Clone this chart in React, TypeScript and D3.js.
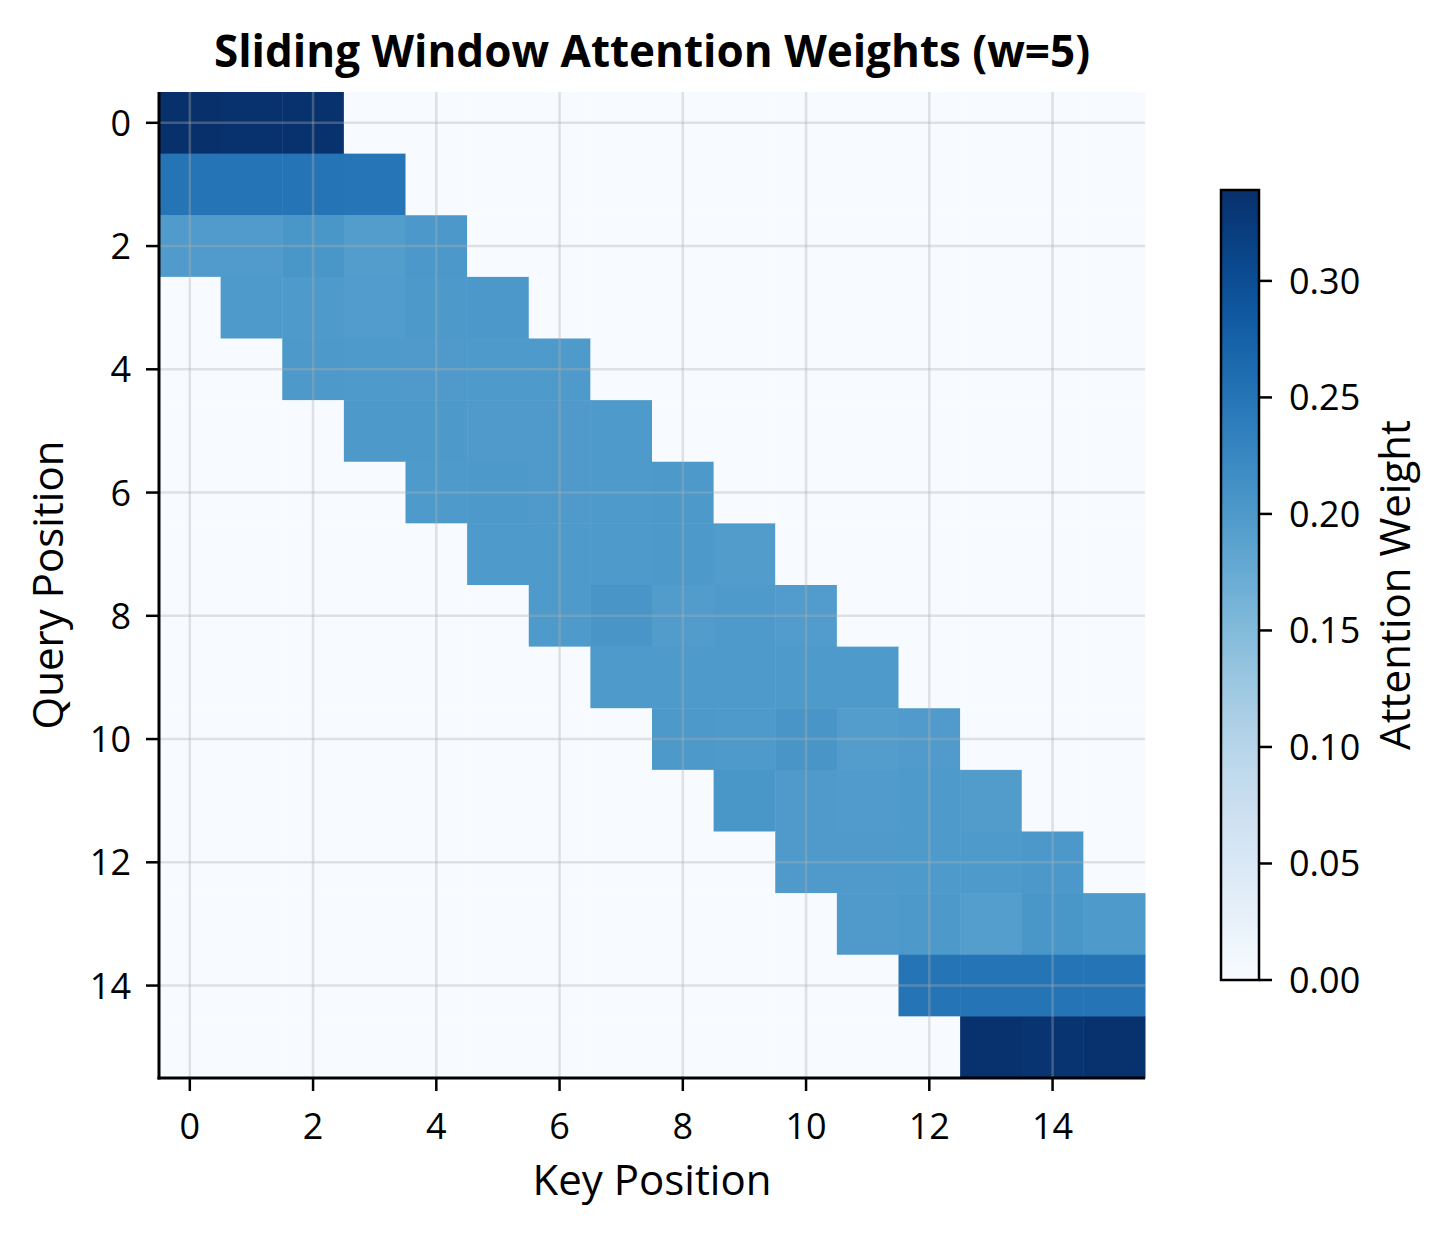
import * as d3 from 'd3'

const N = 16
const ticks = [0, 2, 4, 6, 8, 10, 12, 14]
const cbarTicks = [0, 0.05, 0.1, 0.15, 0.2, 0.25, 0.3]

// first key index of each query's window
const rowStart = [0, 0, 0, 1, 2, 3, 4, 5, 6, 7, 8, 9, 10, 11, 12, 13]
// attention weights inside each window
const rowWeights = [
  [0.339, 0.337, 0.336],
  [0.25, 0.251, 0.25, 0.249],
  [0.198, 0.198, 0.205, 0.195, 0.202],
  [0.2, 0.2, 0.197, 0.201, 0.202],
  [0.201, 0.2, 0.199, 0.2, 0.2],
  [0.201, 0.201, 0.199, 0.199, 0.2],
  [0.2, 0.201, 0.199, 0.2, 0.201],
  [0.2, 0.2, 0.2, 0.201, 0.196],
  [0.2, 0.206, 0.196, 0.2, 0.197],
  [0.2, 0.2, 0.2, 0.2, 0.2],
  [0.201, 0.2, 0.206, 0.195, 0.198],
  [0.205, 0.199, 0.198, 0.2, 0.196],
  [0.199, 0.199, 0.2, 0.2, 0.202],
  [0.199, 0.201, 0.194, 0.205, 0.2],
  [0.25, 0.25, 0.25, 0.25],
  [0.336, 0.334, 0.336],
]

const FONT = '"Open Sans", "Noto Sans", sans-serif'

export default function App() {
  const W = 1449
  const H = 1234
  const m = { left: 159, top: 92, size: 986 }

  const cells: { q: number; k: number; v: number }[] = []
  for (let q = 0; q < N; q++) {
    for (let k = 0; k < N; k++) {
      const i = k - rowStart[q]
      const v = i >= 0 && i < rowWeights[q].length ? rowWeights[q][i] : 0
      cells.push({ q, k, v })
    }
  }
  const vmax = d3.max(cells, c => c.v) ?? 1

  const x = d3.scaleBand<number>().domain(d3.range(N)).range([m.left, m.left + m.size])
  const y = d3.scaleBand<number>().domain(d3.range(N)).range([m.top, m.top + m.size])
  const color = d3.scaleSequential(d3.interpolateBlues).domain([0, vmax])
  const bw = x.bandwidth()
  const cx = (k: number) => (x(k) ?? 0) + bw / 2
  const cy = (q: number) => (y(q) ?? 0) + bw / 2

  const cb = { x: 1221, w: 38, top: 190, bottom: 980 }
  const cbY = d3.scaleLinear().domain([0, vmax]).range([cb.bottom, cb.top])
  const stops = d3.range(0, 1.0001, 0.05)

  const right = m.left + m.size
  const bottom = m.top + m.size

  return (
    <svg width={W} height={H} style={{ position: 'absolute', left: 0, top: 0, background: '#fff' }}
      fontFamily={FONT}>
      <defs>
        <linearGradient id="cbar" x1="0" y1="1" x2="0" y2="0">
          {stops.map(t => (
            <stop key={t} offset={t} stopColor={d3.interpolateBlues(t)} />
          ))}
        </linearGradient>
      </defs>
      <text x={652} y={67} textAnchor="middle" fontSize={44} fontWeight="bold">
        Sliding Window Attention Weights (w=5)
      </text>

      {cells.map(c => (
        <rect key={`${c.q}-${c.k}`} x={x(c.k)} y={y(c.q)} width={bw + 0.5} height={bw + 0.5}
          fill={color(c.v)} />
      ))}

      {ticks.map(t => (
        <g key={`g${t}`} stroke="#b0b0b0" strokeOpacity={0.35} strokeWidth={2.5}>
          <line x1={cx(t)} x2={cx(t)} y1={m.top} y2={bottom} />
          <line x1={m.left} x2={right} y1={cy(t)} y2={cy(t)} />
        </g>
      ))}

      <line x1={m.left} x2={m.left} y1={m.top} y2={bottom + 1.5} stroke="#000" strokeWidth={3} />
      <line x1={m.left - 1.5} x2={right} y1={bottom} y2={bottom} stroke="#000" strokeWidth={3} />

      {ticks.map(t => (
        <g key={`xt${t}`}>
          <line x1={cx(t)} x2={cx(t)} y1={bottom} y2={bottom + 13} stroke="#000" strokeWidth={2.5} />
          <text x={cx(t)} y={1139} textAnchor="middle" fontSize={36}>{t}</text>
          <line x1={m.left} x2={m.left - 13} y1={cy(t)} y2={cy(t)} stroke="#000" strokeWidth={2.5} />
          <text x={m.left - 28} y={cy(t)} dy="0.36em" textAnchor="end" fontSize={36}>{t}</text>
        </g>
      ))}

      <text x={652} y={1195} textAnchor="middle" fontSize={42}>Key Position</text>
      <text transform={`translate(63,${m.top + m.size / 2}) rotate(-90)`} textAnchor="middle" fontSize={42}>
        Query Position
      </text>

      <rect x={cb.x} y={cb.top} width={cb.w} height={cb.bottom - cb.top} fill="url(#cbar)"
        stroke="#000" strokeWidth={2.5} />
      {cbarTicks.map(t => (
        <g key={`ct${t}`}>
          <line x1={cb.x + cb.w} x2={cb.x + cb.w + 13} y1={cbY(t)} y2={cbY(t)} stroke="#000" strokeWidth={2.5} />
          <text x={cb.x + cb.w + 30} y={cbY(t)} dy="0.36em" fontSize={36}>{t.toFixed(2)}</text>
        </g>
      ))}
      <text transform={`translate(1410,${(cb.top + cb.bottom) / 2}) rotate(-90)`} textAnchor="middle" fontSize={42}>
        Attention Weight
      </text>
    </svg>
  )
}
